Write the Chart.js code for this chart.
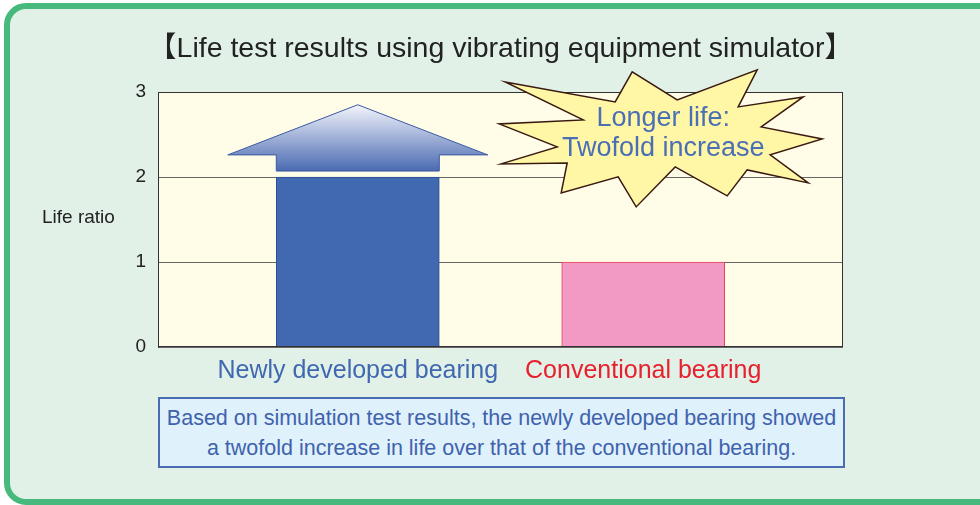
<!DOCTYPE html>
<html>
<head>
<meta charset="utf-8">
<script src="https://cdn.jsdelivr.net/npm/chart.js@4.4.1/dist/chart.umd.min.js"></script>
<style>
  body { margin: 0; width: 980px; height: 505px; overflow: hidden; position: relative; background: #fff; }
  .frame { position: absolute; left: 4px; top: 3px; width: 1010px; height: 502px; box-sizing: border-box;
           border: 6px solid #47b97c; border-radius: 22px; background: #e1f1e7; }
  #c { position: absolute; left: 0; top: 0; }
  .note { position: absolute; left: 158px; top: 397px; width: 687px; height: 71px; box-sizing: border-box;
          border: 2px solid #4a6cb3; background: #dff1fb; color: #3f62ad;
          font: 21.5px 'Liberation Sans', Arial, sans-serif; line-height: 30px; text-align: center;
          display: flex; align-items: center; justify-content: center; }
</style>
</head>
<body>
<div class="frame"></div>
<canvas id="c" width="980" height="505"></canvas>
<div class="note"><div>Based on simulation test results, the newly developed bearing showed<br>a twofold increase in life over that of the conventional bearing.</div></div>
<script>
const categories = ['Newly developed bearing', 'Conventional bearing'];
const lifeRatio = [2, 1];
const yTicks = [0, 1, 2, 3];
const chartTitle = '【Life test results using vibrating equipment simulator】';
const yTitle = 'Life ratio';
const burstLines = ['Longer life:', 'Twofold increase'];

const barColors = ['#4169b2', '#f39ac4'];
const barBorders = ['#2d4e96', '#e8405a'];
const labelColors = ['#4068b0', '#e8202e'];
const FONT = "'Liberation Sans', Arial, Helvetica, sans-serif";
Chart.defaults.font.family = FONT;

// starburst outline, offsets from its centre in px
const burst = [[-158,-56],[-48,-36],[-31,-66],[14,-38],[94,-68],[75,-31],[140,-41],[98,-11],[159,1],[107,17],
  [145,45],[84,32],[64,58],[12,29],[-27,69],[-45,39],[-102,55],[-96,25],[-162,26],[-106,9],[-164,-14],[-80,-18]];

const decor = {
  id: 'decor',
  beforeDraw(chart) {
    const { ctx, chartArea: a } = chart;
    ctx.save();
    ctx.fillStyle = '#fffde8';
    ctx.fillRect(a.left, a.top, a.right - a.left, a.bottom - a.top);
    ctx.restore();
  },
  afterDatasetsDraw(chart) {
    const { ctx, chartArea: a, scales: { x, y } } = chart;
    ctx.save();
    // plot frame
    ctx.strokeStyle = '#333';
    ctx.lineWidth = 1;
    ctx.strokeRect(a.left + 0.5, a.top + 0.5, a.right - a.left - 1, a.bottom - a.top - 1);

    // arrow above the new bearing bar
    const cx = x.getPixelForValue(0);
    const half = 163 / 2, wing = 130;
    const yTop = y.getPixelForValue(2.85), yWing = y.getPixelForValue(2.26), yBase = y.getPixelForValue(2.07);
    const g = ctx.createLinearGradient(0, yTop, 0, yBase);
    g.addColorStop(0, '#f4f5fc');
    g.addColorStop(1, '#4a6ab2');
    ctx.beginPath();
    ctx.moveTo(cx, yTop);
    ctx.lineTo(cx + wing, yWing);
    ctx.lineTo(cx + half, yWing);
    ctx.lineTo(cx + half, yBase);
    ctx.lineTo(cx - half, yBase);
    ctx.lineTo(cx - half, yWing);
    ctx.lineTo(cx - wing, yWing);
    ctx.closePath();
    ctx.fillStyle = g;
    ctx.fill();
    ctx.strokeStyle = '#3a5aa0';
    ctx.stroke();

    // starburst
    const bx = x.getPixelForValue(1.07), by = y.getPixelForValue(2.46);
    ctx.beginPath();
    burst.forEach(([dx, dy], i) => i ? ctx.lineTo(bx + dx, by + dy) : ctx.moveTo(bx + dx, by + dy));
    ctx.closePath();
    ctx.fillStyle = '#fff6a6';
    ctx.fill();
    ctx.strokeStyle = '#3a1a10';
    ctx.lineWidth = 1.5;
    ctx.stroke();
    ctx.fillStyle = '#4a6fb5';
    ctx.font = '27px ' + FONT;
    ctx.textAlign = 'center';
    ctx.textBaseline = 'middle';
    ctx.fillText(burstLines[0], bx, by - 19);
    ctx.fillText(burstLines[1], bx, by + 11);
    ctx.restore();
  },
  afterDraw(chart) {
    const { ctx, chartArea: a, scales: { y } } = chart;
    ctx.save();
    ctx.fillStyle = '#222';
    ctx.textBaseline = 'middle';
    ctx.textAlign = 'center';
    ctx.font = "28.5px 'Liberation Sans', 'Noto Sans CJK JP', sans-serif";
    ctx.fillText(chartTitle, (a.left + a.right) / 2, 49);
    ctx.textAlign = 'left';
    ctx.font = '19px ' + FONT;
    ctx.fillText(yTitle, a.left - 116, y.getPixelForValue(1.52));
    ctx.restore();
  }
};

new Chart(document.getElementById('c'), {
  type: 'bar',
  data: {
    datasets: [{
      data: lifeRatio.map((v, i) => ({ x: i, y: v })),
      backgroundColor: barColors,
      borderColor: barBorders,
      borderWidth: 1,
      barThickness: 163
    }]
  },
  options: {
    responsive: false,
    animation: false,
    layout: { padding: { left: 98, right: 137, top: 92, bottom: 0 } },
    plugins: { legend: { display: false }, tooltip: { enabled: false } },
    scales: {
      x: {
        type: 'linear',
        min: -0.7,
        max: 1.7,
        offset: false,
        grid: { display: false, offset: false },
        border: { display: false },
        afterBuildTicks: s => { s.ticks = categories.map((c, i) => ({ value: i })); },
        afterFit: s => { s.height = 158; },
        ticks: {
          autoSkip: false,
          maxRotation: 0,
          padding: 1,
          font: { size: 25 },
          color: c => labelColors[c.index],
          callback: v => categories[v]
        }
      },
      y: {
        min: 0,
        max: 3,
        afterBuildTicks: s => { s.ticks = yTicks.map(v => ({ value: v })); },
        afterFit: s => { s.width = 60; },
        grid: { color: '#666', drawTicks: false },
        border: { color: '#333' },
        ticks: { padding: 12, font: { size: 19 }, color: '#222' }
      }
    }
  },
  plugins: [decor]
});
</script>
</body>
</html>
